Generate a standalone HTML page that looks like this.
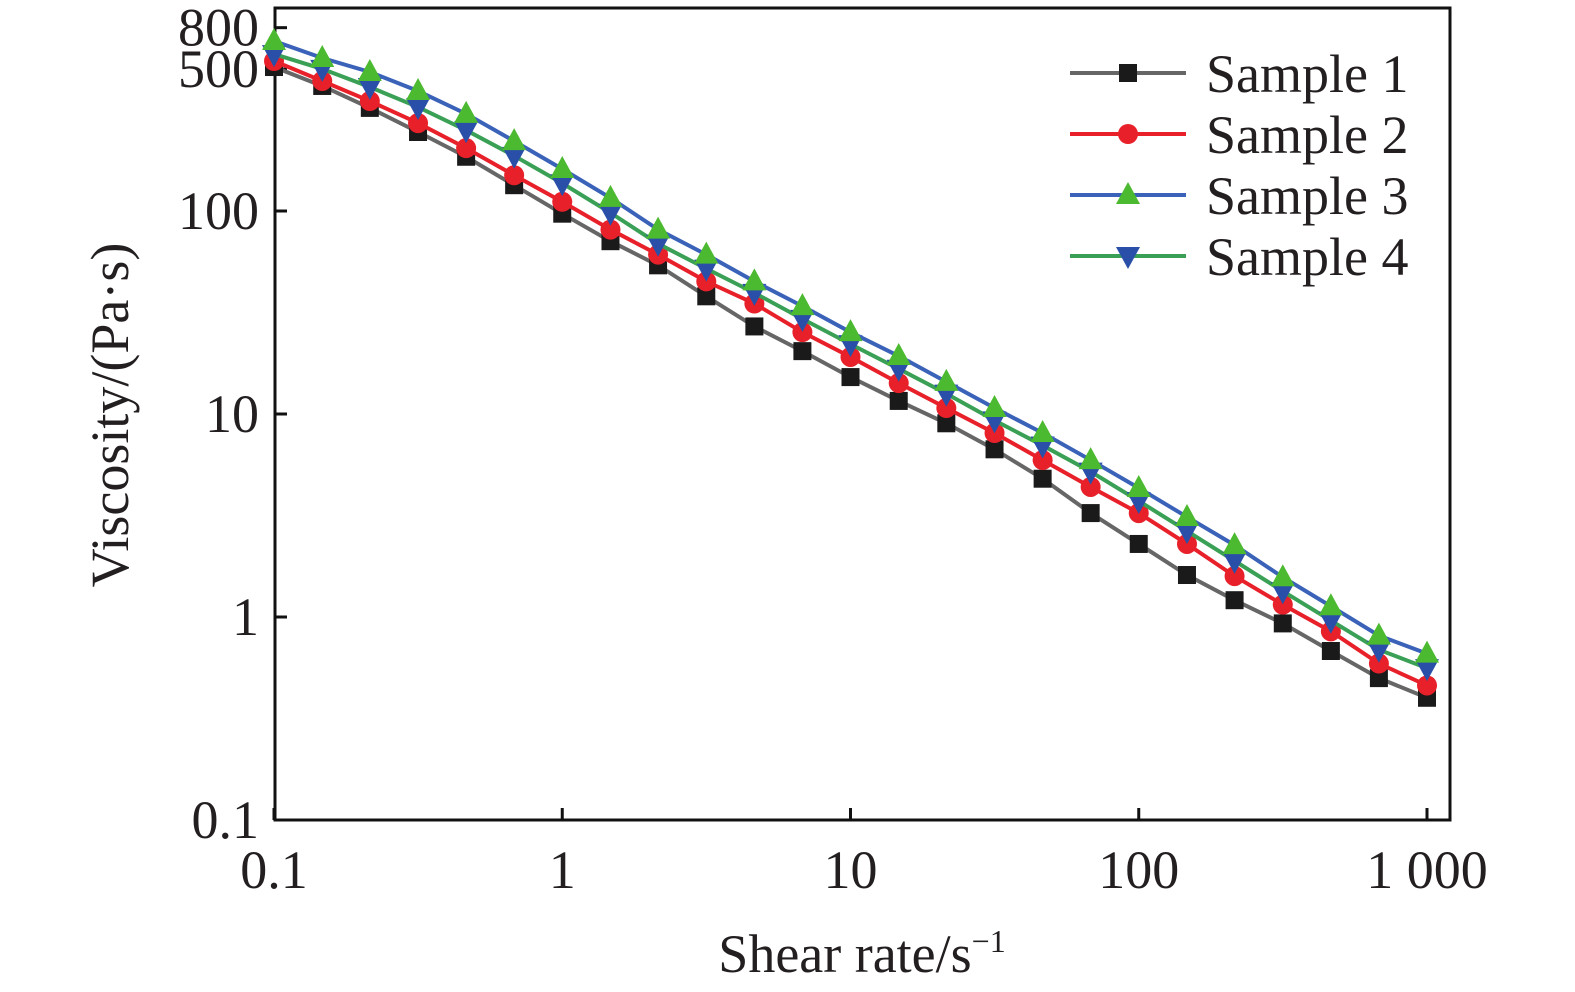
<!DOCTYPE html>
<html><head><meta charset="utf-8"><style>
html,body{margin:0;padding:0;background:#fff;}
svg{display:block;font-family:"Liberation Serif",serif;}
</style></head><body>
<svg id="chart" width="1575" height="992">
<g id="axes"></g><g id="series"></g><g id="legend"></g>
</svg>
<script>
const shearRates = [0.1,0.147,0.215,0.316,0.464,0.681,1,1.47,2.15,3.16,4.64,6.81,10,14.7,21.5,31.6,46.4,68.1,100,147,215,316,464,681,1000];
const sample1 = [512,413,322,245,185,134,97,71,54,38,27,20.4,15.2,11.6,9.0,6.7,4.8,3.25,2.29,1.61,1.21,0.93,0.68,0.50,0.40];
const sample2 = [548,437,348,271,204,150,111,81,61,45,35,25.3,19.1,14.2,10.7,8.06,5.93,4.37,3.25,2.29,1.59,1.15,0.85,0.59,0.46];
const sample3 = [688,567,484,390,301,221,161,116,81,61,45,34,25.3,19.3,14.4,10.7,8.06,5.93,4.32,3.11,2.26,1.57,1.13,0.81,0.66];
const sample4 = [593,501,408,325,250,187,137,98,69,52,39.5,29.4,22.1,16.7,12.6,9.3,7.0,5.2,3.73,2.65,1.89,1.34,0.96,0.69,0.56];
const xTicks = [0.1,1,10,100,1000];
const xTickLabels = ["0.1","1","10","100","1 000"];
const yTicks = [0.1,1,10,100,500,800];
const yTickLabels = ["0.1","1","10","100","500","800"];
const seriesNames = ["Sample 1","Sample 2","Sample 3","Sample 4"];

const NS="http://www.w3.org/2000/svg";
const L=275,R=1450,T=8,B=820;
const FS=54;
const x=v=>274+(Math.log10(v)+1)*288.25;
const y=v=>820-(Math.log10(v)+1)*203;
function mk(tag,attrs,parent,text){const e=document.createElementNS(NS,tag);for(const k in attrs)e.setAttribute(k,attrs[k]);if(text!==undefined)e.textContent=text;parent.appendChild(e);return e;}
const ax=document.getElementById('axes');
const frame=mk('rect',{x:L,y:T,width:R-L,height:B-T,fill:'none',stroke:'#111','stroke-width':3},ax);


xTicks.forEach((t,i)=>{
 const ln=mk('line',{x1:x(t),x2:x(t),y1:B,y2:B-12,stroke:'#111','stroke-width':3},ax);
 
 
 const tx=mk('text',{x:x(t),y:888,'font-size':FS,'text-anchor':'middle',fill:'#231f20'},ax,xTickLabels[i]);
 
 
});
yTicks.forEach((t,i)=>{
 const ln=mk('line',{x1:L,x2:L+12,y1:y(t),y2:y(t),stroke:'#111','stroke-width':3},ax);
 
 
 const tx=mk('text',{x:259,y:y(t)+18,'font-size':FS,'text-anchor':'end',fill:'#231f20'},ax,yTickLabels[i]);
 
 
});
const xt=mk('text',{x:862,y:972,'font-size':FS,'text-anchor':'middle',fill:'#231f20'},ax);


xt.innerHTML='Shear rate/s<tspan dy="-20" font-size="32">\u22121</tspan>';
const yt=mk('text',{x:0,y:0,'font-size':FS,'text-anchor':'middle',fill:'#231f20',transform:'translate(128,415) rotate(-90)'},ax,'Viscosity/(Pa\u00b7s)');



const styles=[
 {data:sample1,line:'#666666',mark:'#1a1a1a',shape:'square'},
 {data:sample2,line:'#e8202a',mark:'#e8202a',shape:'circle'},
 {data:sample3,line:'#3a62b8',mark:'#4cba30',shape:'up'},
 {data:sample4,line:'#3aa055',mark:'#2a4fa8',shape:'down'}];
function marker(shape,cx,cy,col,g){
 let e;
 if(shape==='square')e=mk('rect',{x:cx-9,y:cy-9,width:18,height:18,fill:col},g);
 else if(shape==='circle')e=mk('circle',{cx,cy,r:10,fill:col},g);
 else if(shape==='up')e=mk('polygon',{points:`${cx},${cy-13} ${cx-12},${cy+9} ${cx+12},${cy+9}`,fill:col},g);
 else e=mk('polygon',{points:`${cx},${cy+13} ${cx-12},${cy-9} ${cx+12},${cy-9}`,fill:col},g);
 return e;
}
const sg=document.getElementById('series');
const order=[0,1,3,2];
order.forEach(si=>{
 const s=styles[si];
 const g=mk('g',{},sg);
 
 
 const pts=shearRates.map((r,i)=>x(r)+','+y(s.data[i])).join(' ');
 const pl=mk('polyline',{points:pts,fill:'none',stroke:s.line,'stroke-width':4},g);
 
 
 shearRates.forEach((r,i)=>{
  const m=marker(s.shape,x(r),y(s.data[i]),s.mark,g);
  
  
 });
});
const lg=document.getElementById('legend');
seriesNames.forEach((n,i)=>{
 const s=styles[i];const yy=73+i*61;
 const g=mk('g',{},lg);
 
 
 mk('line',{x1:1070,x2:1186,y1:yy,y2:yy,stroke:s.line,'stroke-width':4},g);
 marker(s.shape,1128,yy,s.mark,g);
 mk('text',{x:1206,y:yy+19,'font-size':FS,fill:'#231f20'},g,n);
});
</script>
</body></html>
